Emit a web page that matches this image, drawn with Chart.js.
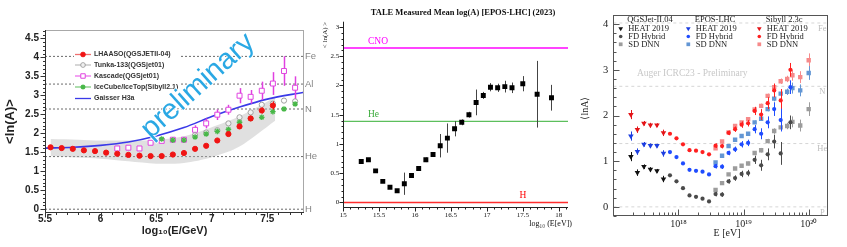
<!DOCTYPE html>
<html><head><meta charset="utf-8">
<script src="https://cdn.jsdelivr.net/npm/chart.js@4/dist/chart.umd.min.js"></script>
<style>
html,body{margin:0;padding:0;background:#fff;width:847px;height:247px;overflow:hidden}
canvas{position:absolute;top:0}
#c1{left:0}#c2{left:320px}#c3{left:572px}
</style></head><body>
<canvas id="c1" width="320" height="247"></canvas>
<canvas id="c2" width="252" height="247"></canvas>
<canvas id="c3" width="275" height="247"></canvas>
<script>
// ================= Panel 1 : LHAASO <lnA> =================
const P1_LHAASO_X = [5.55,5.65,5.75,5.85,5.95,6.05,6.15,6.25,6.35,6.45,6.55,6.65,6.75,6.85,6.95,7.05,7.15,7.25,7.35,7.45,7.55];
const P1_LHAASO_Y = [1.63,1.61,1.59,1.55,1.53,1.49,1.46,1.43,1.41,1.40,1.40,1.44,1.48,1.59,1.67,1.81,1.98,2.18,2.39,2.60,2.73];
const P1_LHAASO_ERR = [0.01,0.01,0.01,0.01,0.01,0.01,0.01,0.01,0.01,0.01,0.01,0.01,0.01,0.02,0.02,0.03,0.04,0.06,0.06,0.08,0.11];
const P1_BAND_X  = [5.55,5.8,6.0,6.25,6.5,6.75,7.0,7.25,7.57];
const P1_BAND_HI = [1.85,1.83,1.81,1.81,1.82,1.92,2.16,2.45,2.95];
const P1_BAND_LO = [1.40,1.36,1.33,1.26,1.20,1.22,1.37,1.65,2.33];
const P1_TUNKA_X = [6.85,6.95,7.05,7.15,7.25,7.35,7.45,7.55,7.65,7.75];
const P1_TUNKA_Y = [1.95,2.02,2.08,2.26,2.42,2.55,2.75,2.78,2.86,2.84];
const P1_KASCADE_X = [6.15,6.25,6.35,6.45,6.55,6.65,6.75,6.85,6.95,7.05,7.15,7.25,7.35,7.45,7.55,7.65,7.75];
const P1_KASCADE_Y = [1.60,1.62,1.60,1.75,1.80,1.83,1.83,2.09,2.26,2.49,2.62,2.99,2.96,3.12,3.31,3.64,3.20];
const P1_KASCADE_ERR = [0.02,0.02,0.02,0.03,0.03,0.03,0.03,0.12,0.13,0.14,0.13,0.20,0.18,0.24,0.30,0.39,0.30];
const P1_ICECUBE_X = [6.55,6.65,6.75,6.85,6.95,7.05,7.15,7.25,7.35,7.45,7.55,7.65,7.75];
const P1_ICECUBE_Y = [1.85,1.82,1.82,1.90,1.98,2.05,2.10,2.29,2.39,2.42,2.57,2.64,2.77];
const P1_GAISSER_X = [5.5,5.75,6.0,6.25,6.5,6.75,7.0,7.25,7.5,7.83];
const P1_GAISSER_Y = [1.61,1.63,1.68,1.77,1.93,2.15,2.44,2.69,2.90,3.08];
const P1_ELEM_LNA = [4.025,3.296,2.639,1.386,0];
const P1_ELEM_NAMES = ['Fe','Al','N','He','H'];

// ================= Panel 2 : TALE =================
const P2_X = [15.25,15.35,15.45,15.55,15.65,15.75,15.85,15.95,16.05,16.15,16.25,16.35,16.45,16.55,16.65,16.75,16.85,16.95,17.05,17.15,17.25,17.35,17.5,17.7,17.9];
const P2_Y = [0.70,0.73,0.54,0.36,0.26,0.20,0.32,0.46,0.58,0.73,0.82,0.97,1.10,1.26,1.37,1.50,1.71,1.83,1.97,1.96,1.98,1.96,2.03,1.85,1.79];
const P2_ERR = [0.02,0.02,0.02,0.02,0.02,0.02,0.19,0.02,0.04,0.04,0.04,0.20,0.25,0.13,0.05,0.05,0.22,0.06,0.07,0.07,0.10,0.09,0.13,0.57,0.22];
const P2_REF_LNA = [2.639,1.386,0];
const P2_REF_NAMES = ['CNO','He','H'];

// ================= Panel 3 : Auger =================
const P3_MODELS = ['QGSJet-II.04','EPOS-LHC','Sibyll 2.3c'];
const P3_SETS = ['HEAT 2019','FD Hybrid','SD DNN'];
const P3_HEAT_X = [17.27,17.37,17.47,17.57,17.67,17.77];
const P3_HEAT_ERR = [0.10,0.07,0.05,0.05,0.04,0.07];
const P3_HEAT_QGS  = [1.10,0.75,0.88,0.82,0.79,0.61];
const P3_HEAT_EPOS = [1.55,1.21,1.37,1.34,1.34,1.17];
const P3_HEAT_SIB  = [2.02,1.69,1.83,1.79,1.79,1.62];
const P3_FD_X = [17.87,17.97,18.07,18.17,18.27,18.37,18.47,18.57,18.67,18.77,18.87,18.97,19.07,19.17,19.27,19.37,19.47,19.57,19.72];
const P3_FD_ERR = [0.02,0.02,0.02,0.02,0.02,0.02,0.03,0.05,0.05,0.05,0.06,0.07,0.07,0.09,0.12,0.13,0.15,0.25,0.15];
const P3_FD_QGS  = [0.69,0.56,0.41,0.25,0.22,0.18,0.12,0.28,0.27,0.56,0.63,0.72,0.74,1.03,0.91,1.15,1.43,1.17,1.85];
const P3_FD_EPOS = [1.20,1.09,0.95,0.81,0.79,0.77,0.71,0.89,0.88,1.18,1.26,1.37,1.40,1.70,1.60,1.85,2.14,1.90,2.62];
const P3_FD_SIB  = [1.60,1.50,1.37,1.24,1.23,1.20,1.15,1.34,1.33,1.62,1.70,1.80,1.83,2.10,2.02,2.27,2.55,2.33,3.00];
const P3_SD_X = [18.57,18.67,18.77,18.87,18.97,19.07,19.17,19.27,19.37,19.47,19.57,19.67,19.75,19.87,20.0];
const P3_SD_ERR = [0.03,0.03,0.03,0.03,0.03,0.04,0.04,0.05,0.05,0.06,0.06,0.07,0.12,0.13,0.15];
const P3_SD_QGS  = [0.37,0.52,0.71,0.84,0.90,0.95,1.18,1.24,1.44,1.66,1.74,1.77,1.86,1.78,2.14];
const P3_SD_EPOS = [0.97,1.12,1.33,1.47,1.55,1.60,1.85,1.93,2.14,2.37,2.48,2.52,2.60,2.55,2.93];
const P3_SD_SIB  = [1.28,1.43,1.63,1.77,1.85,1.92,2.13,2.21,2.43,2.62,2.75,2.80,2.88,2.84,3.21];
const P3_X_TICKS = [18,19,20];
const P3_ELEM_LNA = [4.025,2.639,1.386,0];
const P3_ELEM_NAMES = ['Fe','N','He','P'];

// ---------------- helpers ----------------
const SANS = "'Liberation Sans', Arial, sans-serif";
const SERIF = "'Liberation Serif', 'Times New Roman', serif";
const pts = (xs, ys) => xs.map((x, i) => ({x, y: ys[i]}));
const range = (a, b, s) => { const r = []; for (let v = a; v <= b + 1e-9; v += s) r.push(Math.round(v * 1000) / 1000); return r; };
const fmt = v => String(Math.round(v * 100) / 100);
const SUP = {'0':'⁰','1':'¹','2':'²','3':'³','4':'⁴','5':'⁵','6':'⁶','7':'⁷','8':'⁸','9':'⁹'};

function drawMarker(ctx, style, x, y, r, fill, stroke, lw, rot) {
  ctx.save();
  ctx.lineWidth = lw || 1;
  ctx.beginPath();
  if (style === 'circle') ctx.arc(x, y, r, 0, Math.PI * 2);
  else if (style === 'rect') { const s = r * Math.SQRT1_2; ctx.rect(x - s, y - s, 2 * s, 2 * s); }
  else if (style === 'triangle') {
    let a = (rot || 0) * Math.PI / 180;
    ctx.moveTo(x + Math.sin(a) * r, y - Math.cos(a) * r); a += 2 * Math.PI / 3;
    ctx.lineTo(x + Math.sin(a) * r, y - Math.cos(a) * r); a += 2 * Math.PI / 3;
    ctx.lineTo(x + Math.sin(a) * r, y - Math.cos(a) * r); ctx.closePath();
  } else if (style === 'star') {
    for (let k = 0; k < 4; k++) { const a = k * Math.PI / 4; ctx.moveTo(x - Math.cos(a) * r, y - Math.sin(a) * r); ctx.lineTo(x + Math.cos(a) * r, y + Math.sin(a) * r); }
  }
  if (fill && style !== 'star') { ctx.fillStyle = fill; ctx.fill(); }
  if (stroke) { ctx.strokeStyle = stroke; ctx.stroke(); }
  ctx.restore();
}

const errorBars = {
  id: 'errorBars',
  beforeDatasetDraw(chart, args) {
    const ds = chart.data.datasets[args.index];
    if (!ds.errors) return;
    const meta = args.meta, ys = chart.scales[meta.yAxisID], ctx = chart.ctx;
    ctx.save(); ctx.strokeStyle = ds.errColor; ctx.lineWidth = ds.errWidth || 1;
    meta.data.forEach((el, j) => {
      const e = ds.errors[j]; if (!e) return;
      const v = ds.data[j].y, x = Math.round(el.x) + 0.5;
      ctx.beginPath(); ctx.moveTo(x, ys.getPixelForValue(v - e)); ctx.lineTo(x, ys.getPixelForValue(v + e)); ctx.stroke();
    });
    ctx.restore();
  }
};

const deco = {
  id: 'deco',
  afterDraw(chart, args, o) {
    const ctx = chart.ctx, a = chart.chartArea;
    ctx.save();
    if (o.frame) {
      ctx.strokeStyle = o.frame; ctx.lineWidth = 1;
      ctx.strokeRect(Math.round(a.left) + 0.5, Math.round(a.top) + 0.5, Math.round(a.right - a.left) - 1, Math.round(a.bottom - a.top) - 1);
    }
    if (o.axisColor) {
      ctx.strokeStyle = o.axisColor; ctx.lineWidth = 1; ctx.beginPath();
      const L = Math.round(a.left) + 0.5, B = Math.round(a.bottom) - 0.5;
      ctx.moveTo(L, a.top); ctx.lineTo(L, B); ctx.lineTo(a.right, B); ctx.stroke();
    }
    (o.ticks || []).forEach(t => {
      const sc = chart.scales[t.axis];
      ctx.strokeStyle = t.color || o.axisColor || o.frame; ctx.lineWidth = 1;
      t.values.forEach(v => {
        if (v < sc.min || v > sc.max) return;
        const p = Math.round(sc.getPixelForValue(v)) + 0.5;
        ctx.beginPath();
        if (sc.isHorizontal()) { const B = Math.round(a.bottom) - 0.5; ctx.moveTo(p, B + (t.out ? t.len : 0)); ctx.lineTo(p, B - (t.out ? 0 : t.len)); }
        else { const L = Math.round(a.left) + 0.5; ctx.moveTo(L - (t.out ? t.len : 0), p); ctx.lineTo(L + (t.out ? 0 : t.len), p); }
        ctx.stroke();
      });
    });
    (o.refLabels || []).forEach(g => {
      const ys = chart.scales.y;
      g.items.forEach(it => {
        ctx.font = g.font; ctx.fillStyle = it.color || g.color; ctx.textAlign = it.align || g.align; ctx.textBaseline = 'middle';
        const x = it.x !== undefined ? it.x : a.right + g.dx;
        ctx.fillText(g.names[it.i], x, ys.getPixelForValue(g.values[it.i]) + g.dy);
      });
    });
    if (o.legend) o.legend(chart, ctx);
    (o.texts || []).forEach(t => {
      ctx.save(); ctx.font = t.font; ctx.fillStyle = t.color; ctx.textAlign = t.align || 'left'; ctx.textBaseline = t.baseline || 'middle';
      ctx.translate(t.x, t.y); if (t.rot) ctx.rotate(t.rot * Math.PI / 180);
      if (t.stroke) { ctx.strokeStyle = t.stroke; ctx.lineWidth = t.strokeWidth || 2; ctx.lineJoin = 'round'; ctx.strokeText(t.text, 0, 0); }
      ctx.fillText(t.text, 0, 0); ctx.restore();
    });
    ctx.restore();
  }
};

const baseOpts = {responsive: false, animation: false, events: [], devicePixelRatio: 1};
const noGrid = {display: false, drawTicks: false};
const noBorder = {display: false};

// ================= Chart 1 =================
const P1_XMIN = 5.5, P1_XMAX = 7.83, P1_YMIN = -0.1, P1_YMAX = 4.72;
const ds1 = [
  {label: 'LHAASO(QGSJETII-04)', data: pts(P1_LHAASO_X, P1_LHAASO_Y), showLine: false, pointStyle: 'circle', pointRadius: 2.6,
   pointBackgroundColor: '#f01414', pointBorderColor: '#f01414', pointBorderWidth: 1, errors: P1_LHAASO_ERR, errColor: '#f01414',
   legendRow: 0, legendLine: '#f07070'},
  {label: 'IceCube/IceTop(Sibyll2.1)', data: pts(P1_ICECUBE_X, P1_ICECUBE_Y), showLine: false, pointStyle: 'star', pointRadius: 2.8,
   pointBorderColor: '#48b848', pointBackgroundColor: '#48b848', pointBorderWidth: 1.3, legendRow: 3, legendLine: '#80cc80'},
  {label: 'Tunka-133(QGSjet01)', data: pts(P1_TUNKA_X, P1_TUNKA_Y), showLine: false, pointStyle: 'circle', pointRadius: 2.6,
   pointBackgroundColor: 'rgba(255,255,255,0.6)', pointBorderColor: '#a0a0a0', pointBorderWidth: 1, legendRow: 1, legendLine: '#c0c0c0'},
  {label: 'Kascade(QGSjet01)', data: pts(P1_KASCADE_X, P1_KASCADE_Y), showLine: false, pointStyle: 'rect', pointRadius: 3.5,
   pointBackgroundColor: '#ffffff', pointBorderColor: '#e044e0', pointBorderWidth: 1, errors: P1_KASCADE_ERR, errColor: '#e040e0', errWidth: 1.5,
   legendRow: 2, legendLine: '#ec70ec'},
  {label: 'Gaisser H3a', data: pts(P1_GAISSER_X, P1_GAISSER_Y), borderColor: '#3a3ae8', borderWidth: 1.6, pointRadius: 0,
   cubicInterpolationMode: 'monotone', fill: false, legendRow: 4, legendLine: '#3a3ae8'},
  {label: 'band lo', data: pts(P1_BAND_X, P1_BAND_LO), borderWidth: 0, pointRadius: 0, tension: 0.3, fill: false},
  {label: 'band hi', data: pts(P1_BAND_X, P1_BAND_HI), borderWidth: 0, pointRadius: 0, tension: 0.3, fill: '-1', backgroundColor: 'rgba(180,180,180,0.42)'},
  ...P1_ELEM_LNA.map(v => ({label: 'ref', data: [{x: P1_XMIN, y: v}, {x: P1_XMAX, y: v}], borderColor: '#6a6a6a', borderWidth: 1,
   borderDash: [2, 2], pointRadius: 0, fill: false}))
];
new Chart(document.getElementById('c1'), {
  type: 'line', data: {datasets: ds1},
  options: Object.assign({}, baseOpts, {
    layout: {padding: {top: 30, left: 0, right: 0, bottom: 0}},
    plugins: {legend: {display: false}, tooltip: {enabled: false},
      deco: {
        frame: '#a8a8a8', axisColor: '#333',
        ticks: [
          {axis: 'x', values: range(5.5, 7.8, 0.1), len: 2.5, out: true},
          {axis: 'x', values: range(5.5, 7.5, 0.5), len: 5, out: true},
          {axis: 'y', values: range(0, 4.7, 0.1), len: 2.5, out: true},
          {axis: 'y', values: range(0, 4.5, 0.5), len: 5, out: true}
        ],
        texts: [
          {text: 'preliminary', x: 198, y: 86, rot: -42, font: "29px " + SANS, color: '#2aa8e4', stroke: 'rgba(255,255,255,0.9)', strokeWidth: 2, align: 'center'}
        ],
        legend(chart, ctx) {
          const rowsY = [54, 64.5, 75.5, 86.5, 98];
          ctx.fillStyle = '#ffffff'; ctx.fillRect(74, 48, 106, 56);
          chart.data.datasets.forEach(ds => {
            if (ds.legendRow === undefined) return;
            const y = rowsY[ds.legendRow];
            ctx.strokeStyle = ds.legendLine; ctx.lineWidth = 1.3; ctx.beginPath(); ctx.moveTo(75, y + 0.5); ctx.lineTo(91, y + 0.5); ctx.stroke();
            if (ds.pointRadius > 0) drawMarker(ctx, ds.pointStyle, 83, y + 0.5, ds.pointRadius * 0.9, ds.pointBackgroundColor, ds.pointBorderColor, ds.pointBorderWidth);
            ctx.font = "bold 7px " + SANS; ctx.fillStyle = '#333'; ctx.textAlign = 'left'; ctx.textBaseline = 'middle';
            ctx.fillText(ds.label, 94, y + 0.5);
          });
        }
      }},
    scales: {
      x: {type: 'linear', min: P1_XMIN, max: P1_XMAX, afterFit: s => { s.height = 34; }, grid: noGrid, border: noBorder,
          ticks: {stepSize: 0.5, includeBounds: false, padding: 1, color: '#222', maxRotation: 0, autoSkip: false, callback: fmt,
                  font: {family: SANS, size: 10, weight: 'bold', lineHeight: 1}},
          title: {display: true, text: 'log₁₀(E/GeV)', color: '#222', font: {family: SANS, size: 11, weight: 'bold', lineHeight: 1.2}, padding: {top: 0, bottom: 9}}},
      y: {type: 'linear', min: P1_YMIN, max: P1_YMAX, afterFit: s => { s.width = 45; }, grid: noGrid, border: noBorder,
          ticks: {stepSize: 0.5, includeBounds: false, padding: 6, color: '#222', autoSkip: false, callback: fmt,
                  font: {family: SANS, size: 10, weight: 'bold', lineHeight: 1}},
          title: {display: true, text: '<ln(A)>', color: '#222', font: {family: SANS, size: 13, weight: 'bold', lineHeight: 1.2}, padding: {top: 3, bottom: 0}}},
      y2: {type: 'linear', position: 'right', min: P1_YMIN, max: P1_YMAX, afterFit: s => { s.width = 16; }, grid: noGrid, border: noBorder,
           afterBuildTicks: ax => { ax.ticks = P1_ELEM_LNA.map(v => ({value: v})); },
           ticks: {autoSkip: false, padding: 1, color: '#858585', font: {family: SANS, size: 9.5, lineHeight: 1}, callback: (v, i) => P1_ELEM_NAMES[i]}}
    }
  }),
  plugins: [errorBars, deco]
});

// ================= Chart 2 =================
const P2_XMIN = 15, P2_XMAX = 18.13, P2_YMIN = -0.1, P2_YMAX = 3.09;
const P2_REF_COLORS = ['#ff44ff', '#5cbf5c', '#ff2e2e'];
const P2_REF_WIDTHS = [2, 1.2, 1.6];
const ds2 = [
  {label: 'TALE', data: pts(P2_X, P2_Y), showLine: false, pointStyle: 'rect', pointRadius: 3.5, pointBackgroundColor: '#000',
   pointBorderColor: '#000', pointBorderWidth: 0, errors: P2_ERR, errColor: '#444', errWidth: 1},
  ...P2_REF_LNA.map((v, i) => ({label: P2_REF_NAMES[i], data: [{x: P2_XMIN, y: v}, {x: P2_XMAX, y: v}], borderColor: P2_REF_COLORS[i],
   borderWidth: P2_REF_WIDTHS[i], pointRadius: 0, fill: false}))
];
new Chart(document.getElementById('c2'), {
  type: 'line', data: {datasets: ds2},
  options: Object.assign({}, baseOpts, {
    layout: {padding: {top: 21.7, left: 0, right: 1.5, bottom: 0}},
    plugins: {legend: {display: false}, tooltip: {enabled: false},
      deco: {
        axisColor: '#222',
        ticks: [
          {axis: 'x', values: range(15, 18.1, 0.1), len: 2, out: true},
          {axis: 'x', values: range(15, 18, 0.5), len: 4, out: true},
          {axis: 'y', values: range(0, 3.05, 0.1), len: 2, out: true},
          {axis: 'y', values: range(0, 3, 0.5), len: 4, out: true}
        ],
        refLabels: [{values: P2_REF_LNA, names: P2_REF_NAMES, font: "9.5px " + SERIF, dy: -7, align: 'left', color: '#000',
          items: [{i: 0, x: 48, color: '#ff00ff'}, {i: 1, x: 48, color: '#3aaa3a'}, {i: 2, x: 203, align: 'center', color: '#ff0000'}]}],
        texts: [
          {text: 'TALE Measured Mean log(A) [EPOS-LHC] (2023)', x: 143, y: 13, font: "bold 8.5px " + SERIF, color: '#111', align: 'center'},
          {text: 'log₁₀ (E[eV])', x: 252, y: 223.5, font: "8px " + SERIF, color: '#111', align: 'right'}
        ]
      }},
    scales: {
      x: {type: 'linear', min: P2_XMIN, max: P2_XMAX, afterFit: s => { s.height = 38.7; }, grid: noGrid, border: noBorder,
          ticks: {stepSize: 0.5, includeBounds: false, padding: 3.5, color: '#111', maxRotation: 0, autoSkip: false, callback: fmt,
                  font: {family: SERIF, size: 7, lineHeight: 1}}},
      y: {type: 'linear', min: P2_YMIN, max: P2_YMAX, afterFit: s => { s.width = 23.3; }, grid: noGrid, border: noBorder,
          ticks: {stepSize: 0.5, includeBounds: false, padding: 4, color: '#111', autoSkip: false, callback: fmt,
                  font: {family: SERIF, size: 7, lineHeight: 1}},
          title: {display: true, text: '< ln(A) >', align: 'end', color: '#111', font: {family: SERIF, size: 7, lineHeight: 1.2}, padding: {top: 1, bottom: 0}}}
    }
  }),
  plugins: [errorBars, deco]
});

// ================= Chart 3 =================
const P3_XMIN = 17, P3_XMAX = 20.301, P3_YMIN = -0.2, P3_YMAX = 4.2;
const P3_COLORS = {
  'HEAT 2019': ['#111111', '#1c3ee0', '#e41418'],
  'FD Hybrid': ['#4a4a4a', '#1f4cff', '#ff1f1f'],
  'SD DNN':    ['#9c9c9c', '#6396d4', '#f68a8a']
};
const P3_STYLE = {'HEAT 2019': ['triangle', 3.2, 180], 'FD Hybrid': ['circle', 2.1, 0], 'SD DNN': ['rect', 3.1, 0]};
const P3_SERIES = [
  ['HEAT 2019', P3_HEAT_X, [P3_HEAT_QGS, P3_HEAT_EPOS, P3_HEAT_SIB], P3_HEAT_ERR],
  ['FD Hybrid', P3_FD_X, [P3_FD_QGS, P3_FD_EPOS, P3_FD_SIB], P3_FD_ERR],
  ['SD DNN', P3_SD_X, [P3_SD_QGS, P3_SD_EPOS, P3_SD_SIB], P3_SD_ERR]
];
const ds3 = [];
P3_SERIES.forEach(([name, xs, ysList, err], row) => {
  ysList.forEach((ys, col) => {
    const c = P3_COLORS[name][col], st = P3_STYLE[name];
    ds3.push({label: name, data: pts(xs, ys), showLine: false, pointStyle: st[0], pointRadius: st[1], pointRotation: st[2],
      pointBackgroundColor: c, pointBorderColor: c, pointBorderWidth: 0, errors: err, errColor: c, errWidth: 1,
      legendRow: row, legendCol: col});
  });
});
ds3.push(...P3_ELEM_LNA.map(v => ({label: 'ref', data: [{x: P3_XMIN, y: v}, {x: P3_XMAX, y: v}], borderColor: '#d6d6d6',
  borderWidth: 1, borderDash: [3, 3], pointRadius: 0, fill: false})));
const logMinor = [];
for (let n = 17; n <= 20; n++) for (let k = 2; k <= 9; k++) logMinor.push(n + Math.log10(k));
new Chart(document.getElementById('c3'), {
  type: 'line', data: {datasets: ds3},
  options: Object.assign({}, baseOpts, {
    layout: {padding: {top: 15, left: 0, right: 18.7, bottom: 0}},
    plugins: {legend: {display: false}, tooltip: {enabled: false},
      deco: {
        frame: '#555',
        ticks: [
          {axis: 'x', values: logMinor, len: 3, color: '#555'},
          {axis: 'x', values: P3_X_TICKS, len: 6, color: '#555'},
          {axis: 'y', values: range(-0.2, 4.2, 0.2), len: 3, color: '#555'},
          {axis: 'y', values: range(0, 4, 1), len: 6, color: '#555'}
        ],
        refLabels: [{values: P3_ELEM_LNA, names: P3_ELEM_NAMES, font: "8.5px " + SERIF, dx: -6, dy: 5.5, align: 'center', color: '#bdbdbd',
          items: [{i: 0}, {i: 1}, {i: 2}, {i: 3}]}],
        texts: [
          {text: 'Auger ICRC23 - Preliminary', x: 65, y: 73, font: "9.5px " + SERIF, color: '#c8c8c8', align: 'left'},
          {text: '⟨lnA⟩', x: 13, y: 108, rot: -90, font: "10px " + SERIF, color: '#222', align: 'center'},
          {text: 'E [eV]', x: 155, y: 233, font: "10px " + SERIF, color: '#222', align: 'center'}
        ],
        legend(chart, ctx) {
          const colM = [48.7, 116.3, 187.3], rowY = [28.5, 36.5, 44.3];
          ctx.font = "8.5px " + SERIF; ctx.fillStyle = '#222'; ctx.textAlign = 'left'; ctx.textBaseline = 'middle';
          P3_MODELS.forEach((m, c) => ctx.fillText(m, colM[c] + 6.5, 20));
          chart.data.datasets.forEach(ds => {
            if (ds.legendCol === undefined) return;
            const x = colM[ds.legendCol], y = rowY[ds.legendRow];
            drawMarker(ctx, ds.pointStyle, x, y, ds.pointRadius * 0.85, ds.pointBackgroundColor, null, 0, ds.pointRotation);
            ctx.font = "8.5px " + SERIF; ctx.fillStyle = '#222'; ctx.textAlign = 'left'; ctx.textBaseline = 'middle';
            ctx.fillText(ds.label, x + 7.5, y);
          });
        }
      }},
    scales: {
      x: {type: 'linear', min: P3_XMIN, max: P3_XMAX, afterFit: s => { s.height = 31; }, grid: noGrid, border: noBorder,
          afterBuildTicks: ax => { ax.ticks = P3_X_TICKS.map(v => ({value: v})); },
          ticks: {autoSkip: false, padding: 3, color: '#222', maxRotation: 0, font: {family: SERIF, size: 10, lineHeight: 1},
                  callback: v => '10' + String(v).split('').map(d => SUP[d]).join('')}},
      y: {type: 'linear', min: P3_YMIN, max: P3_YMAX, afterFit: s => { s.width = 41.3; }, grid: noGrid, border: noBorder,
          ticks: {stepSize: 1, includeBounds: false, padding: 5, color: '#222', autoSkip: false, callback: fmt,
                  font: {family: SERIF, size: 10.5, lineHeight: 1}}}
    }
  }),
  plugins: [errorBars, deco]
});
</script>
</body></html>
